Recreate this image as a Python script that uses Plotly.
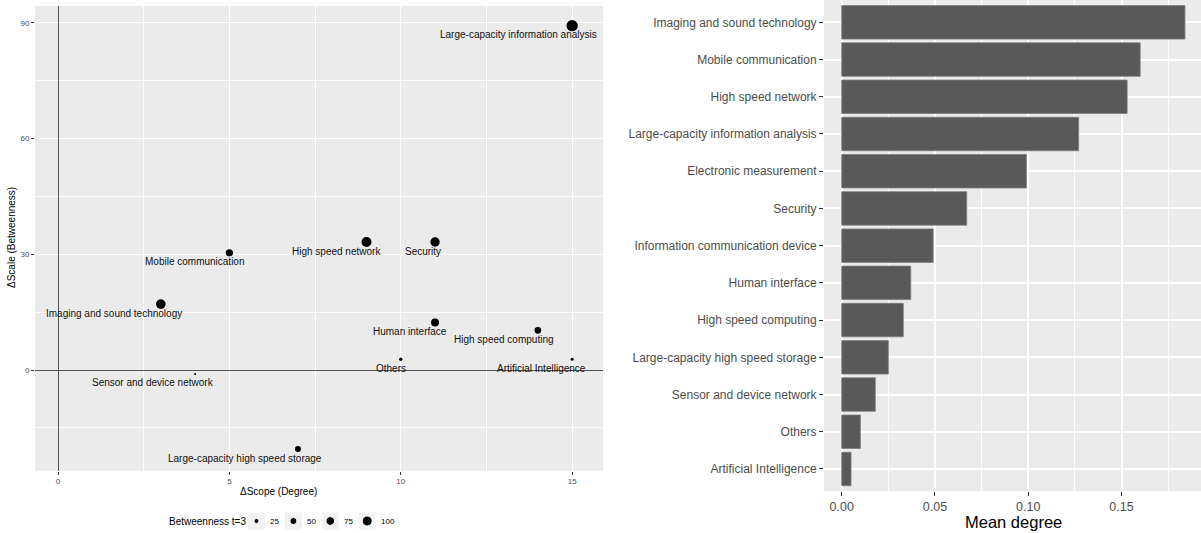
import plotly.graph_objects as go

W, H = 1201, 533

# ---- scatter panel: change in scope vs change in scale ----
topics = [
    "Large-capacity information analysis", "Mobile communication", "High speed network",
    "Security", "Imaging and sound technology", "Human interface", "High speed computing",
    "Others", "Artificial Intelligence", "Sensor and device network",
    "Large-capacity high speed storage",
]
scope_delta = [15, 5, 9, 11, 3, 11, 14, 10, 15, 4, 7]
scale_delta = [89.3, 30.4, 33.2, 33.2, 17.1, 12.3, 10.3, 2.8, 2.8, -1.0, -20.5]
betweenness_t3 = [128, 53, 100, 86, 94, 64, 45, 11, 9, 4, 36]
size_breaks = [25, 50, 75, 100]

# ---- bar panel: mean degree per topic (top to bottom) ----
bar_topics = [
    "Imaging and sound technology", "Mobile communication", "High speed network",
    "Large-capacity information analysis", "Electronic measurement", "Security",
    "Information communication device", "Human interface", "High speed computing",
    "Large-capacity high speed storage", "Sensor and device network", "Others",
    "Artificial Intelligence",
]
mean_degree = [0.184, 0.160, 0.153, 0.127, 0.099, 0.067, 0.049, 0.037, 0.033,
               0.025, 0.018, 0.010, 0.005]
degree_ticks = [0.0, 0.05, 0.10, 0.15]

FONT = "Arial, Liberation Sans, sans-serif"
PANEL_BG = "#EBEBEB"
TXT_GREY = "#4D4D4D"

# Arial advance widths (1/1000 em) used to estimate label widths
ARIAL = {c: 556 for c in "abdeghnopqu0123456789"}
ARIAL.update({"c": 500, "f": 278, "i": 222, "j": 222, "k": 500, "l": 222, "m": 833,
              "r": 333, "s": 500, "t": 278, "v": 500, "w": 722, "x": 500, "y": 500,
              "z": 500, " ": 278, "-": 333, "=": 584, "A": 667, "H": 722, "I": 278,
              "L": 556, "M": 833, "O": 778, "S": 667, "B": 667, ".": 278})


def text_width(s, size):
    return sum(ARIAL.get(ch, 556) for ch in s) * size / 1000.0


def px_x(p):
    return p / W


def px_y(p):
    return 1 - p / H


# size scale shared by points and legend keys: diameter = sqrt(value) px
SIZEREF = 2.0

fig = go.Figure()

# panel domains
L_X = [px_x(35), px_x(603)]
L_Y = [px_y(470.7), px_y(6)]
R_X = [px_x(824), 1.0]
R_Y = [px_y(491.3), 1.0]

fig.add_trace(go.Scatter(
    x=scope_delta, y=scale_delta, mode="markers",
    marker=dict(size=betweenness_t3, sizemode="area", sizeref=SIZEREF,
                color="black", opacity=1, line=dict(width=0)),
    xaxis="x", yaxis="y", showlegend=False, hoverinfo="text", text=topics,
))

fig.add_trace(go.Bar(
    x=mean_degree, y=bar_topics, orientation="h", width=0.9,
    marker=dict(color="#595959", line=dict(color="#7d7d7d", width=0.8)),
    xaxis="x2", yaxis="y2", showlegend=False,
))

annotations = []
# point labels: sit just below each point, mostly to its left
LABEL_SIZE = 10
for name, xv, yv in zip(topics, scope_delta, scale_delta):
    w = text_width(name, LABEL_SIZE)
    annotations.append(dict(
        x=xv, y=yv, xref="x", yref="y", text=name, showarrow=False,
        xanchor="right", yanchor="middle", xshift=0.15 * w + 3, yshift=-9,
        font=dict(family=FONT, size=LABEL_SIZE, color="#111111"),
    ))

# axis titles
annotations.append(dict(
    x=px_x(278), y=px_y(491), xref="paper", yref="paper", text="ΔScope (Degree)",
    showarrow=False, xanchor="center", yanchor="middle",
    font=dict(family=FONT, size=10, color="black"),
))
annotations.append(dict(
    x=px_x(12), y=px_y(238), xref="paper", yref="paper", text="ΔScale (Betweenness)",
    showarrow=False, xanchor="center", yanchor="middle", textangle=-90,
    font=dict(family=FONT, size=10, color="black"),
))
annotations.append(dict(
    x=px_x(1013), y=px_y(522), xref="paper", yref="paper", text="Mean degree",
    showarrow=False, xanchor="center", yanchor="middle",
    font=dict(family=FONT, size=16.5, color="black"),
))

# size legend, laid out left to right on a pixel-unit overlay axis
LEG_Y = 521
title = "Betweenness t=3"
TITLE_X = 167
annotations.append(dict(
    x=TITLE_X, y=LEG_Y, xref="x3", yref="y3", text=title, showarrow=False,
    xanchor="left", yanchor="middle", font=dict(family=FONT, size=10, color="black"),
))
shapes = []
KEY = 17
cursor = TITLE_X + text_width(title, 10) + 4
key_x = []
for b in size_breaks:
    shapes.append(dict(type="rect", xref="x3", yref="y3", x0=cursor, x1=cursor + KEY,
                       y0=LEG_Y - KEY / 2, y1=LEG_Y + KEY / 2, fillcolor="#F2F2F2",
                       line=dict(width=0), layer="below"))
    key_x.append(cursor + KEY / 2)
    lab = str(b)
    annotations.append(dict(
        x=cursor + KEY + 3, y=LEG_Y, xref="x3", yref="y3", text=lab, showarrow=False,
        xanchor="left", yanchor="middle", font=dict(family=FONT, size=8, color="black"),
    ))
    cursor += KEY + 3 + text_width(lab, 8) + 8

fig.add_trace(go.Scatter(
    x=key_x, y=[LEG_Y] * len(size_breaks), mode="markers",
    marker=dict(size=size_breaks, sizemode="area", sizeref=SIZEREF, color="black",
                opacity=1),
    xaxis="x3", yaxis="y3", showlegend=False, hoverinfo="skip",
))

# panel backgrounds (below gridlines)
for xr, yr in (("x", "y"), ("x2", "y2")):
    shapes.append(dict(type="rect", xref=f"{xr} domain", yref=f"{yr} domain",
                       x0=0, x1=1, y0=0, y1=1, fillcolor=PANEL_BG,
                       line=dict(width=0), layer="below"))

fig.update_layout(
    width=W, height=H, margin=dict(l=0, r=0, t=0, b=0),
    paper_bgcolor="white", plot_bgcolor="rgba(0,0,0,0)",
    font=dict(family=FONT),
    showlegend=False,
    annotations=annotations, shapes=shapes,
    xaxis=dict(
        domain=L_X, range=[-0.671, 15.90], tickvals=[0, 5, 10, 15],
        ticks="outside", ticklen=3, tickcolor="#333333", tickwidth=1,
        tickfont=dict(family=FONT, size=8, color=TXT_GREY),
        showgrid=True, gridcolor="white", gridwidth=1.1,
        minor=dict(tickvals=[2.5, 7.5, 12.5], showgrid=True, gridcolor="white",
                   gridwidth=0.5, ticks=""),
        zeroline=True, zerolinecolor="#555555", zerolinewidth=1.4,
        showline=False, anchor="y", fixedrange=True,
    ),
    yaxis=dict(
        domain=L_Y, range=[-26.1, 94.4], tickvals=[0, 30, 60, 90],
        ticks="outside", ticklen=3, tickcolor="#333333", tickwidth=1,
        tickfont=dict(family=FONT, size=8, color=TXT_GREY),
        showgrid=True, gridcolor="white", gridwidth=1.1,
        minor=dict(tickvals=[-15, 15, 45, 75], showgrid=True, gridcolor="white",
                   gridwidth=0.5, ticks=""),
        zeroline=True, zerolinecolor="#555555", zerolinewidth=1.4,
        showline=False, anchor="x", fixedrange=True,
    ),
    xaxis2=dict(
        domain=R_X, range=[-0.0095, 0.1926], tickvals=degree_ticks, tickformat=".2f",
        ticks="outside", ticklen=4, tickcolor="#333333", tickwidth=1,
        tickfont=dict(family=FONT, size=12.5, color=TXT_GREY),
        showgrid=True, gridcolor="white", gridwidth=1.6,
        minor=dict(tickvals=[0.025, 0.075, 0.125, 0.175], showgrid=True,
                   gridcolor="white", gridwidth=0.8, ticks=""),
        zeroline=False, showline=False, anchor="y2", fixedrange=True,
    ),
    yaxis2=dict(
        domain=R_Y, type="category", categoryorder="array", categoryarray=bar_topics,
        range=[len(bar_topics) - 0.4, -0.6],
        ticks="outside", ticklen=4, tickcolor="#333333", tickwidth=1,
        tickfont=dict(family=FONT, size=12, color=TXT_GREY),
        showgrid=True, gridcolor="white", gridwidth=1.6,
        zeroline=False, showline=False, anchor="x2", fixedrange=True,
    ),
    xaxis3=dict(domain=[0, 1], range=[0, W], visible=False, fixedrange=True, anchor="y3"),
    yaxis3=dict(domain=[0, 1], range=[H, 0], visible=False, fixedrange=True, anchor="x3"),
)

fig.write_html("out.html")
